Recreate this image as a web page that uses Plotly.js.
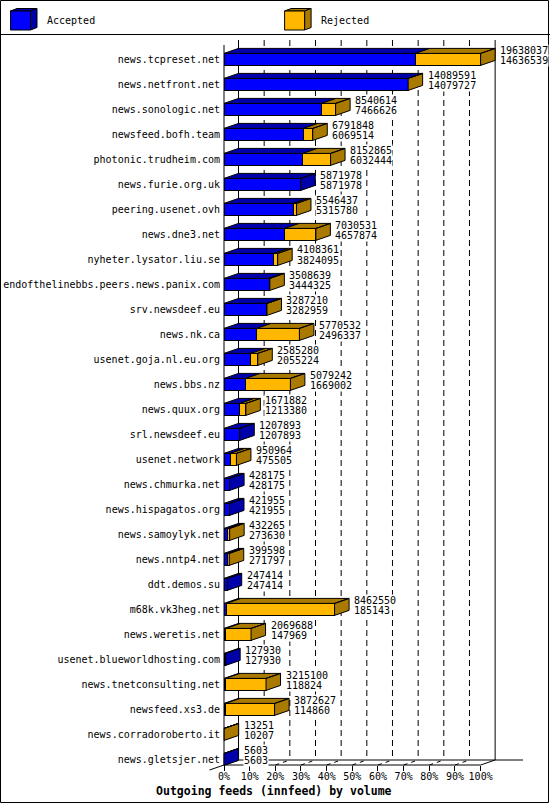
<!DOCTYPE html>
<html>
<head>
<meta charset="utf-8">
<script src="https://cdn.plot.ly/plotly-3.0.1.min.js"></script>
<style>html,body{margin:0;padding:0;background:#fff;}</style>
</head>
<body>
<div id="chart" style="width:550px;height:805px;"></div>
<script>
// ---- data ----
const hosts = [
  "news.tcpreset.net", "news.netfront.net", "news.sonologic.net", "newsfeed.bofh.team",
  "photonic.trudheim.com", "news.furie.org.uk", "peering.usenet.ovh", "news.dne3.net",
  "nyheter.lysator.liu.se", "endofthelinebbs.peers.news.panix.com", "srv.newsdeef.eu",
  "news.nk.ca", "usenet.goja.nl.eu.org", "news.bbs.nz", "news.quux.org", "srl.newsdeef.eu",
  "usenet.network", "news.chmurka.net", "news.hispagatos.org", "news.samoylyk.net",
  "news.nntp4.net", "ddt.demos.su", "m68k.vk3heg.net", "news.weretis.net",
  "usenet.blueworldhosting.com", "news.tnetconsulting.net", "newsfeed.xs3.de",
  "news.corradoroberto.it", "news.gletsjer.net"
];
const offered = [
  19638037, 14089591, 8540614, 6791848, 8152865, 5871978, 5546437, 7030531,
  4108361, 3508639, 3287210, 5770532, 2585280, 5079242, 1671882, 1207893,
  950964, 428175, 421955, 432265, 399598, 247414, 8462550, 2069688,
  127930, 3215100, 3872627, 13251, 5603
];
const accepted = [
  14636539, 14079727, 7466626, 6069514, 6032444, 5871978, 5315780, 4657874,
  3824095, 3444325, 3282959, 2496337, 2055224, 1669002, 1213380, 1207893,
  475505, 428175, 421955, 273630, 271797, 247414, 185143, 147969,
  127930, 118824, 114860, 10207, 5603
];
const tickPercents = [0, 10, 20, 30, 40, 50, 60, 70, 80, 90, 100];
const seriesNames = ["Accepted", "Rejected"];
const chartTitle = "Outgoing feeds (innfeed) by volume";

// ---- styling / geometry ----
const COL_ACC = "#0000ff", COL_ACC_D = "#0000aa";
const COL_REJ = "#ffb700", COL_REJ_D = "#aa7a00";
const FONT = {family: "DejaVu Sans Mono, monospace", size: 10, color: "#000"};

const L = 200, R = 530, T = 38, B = 780;       // plot area in px
const X_ORIGIN = 224, PX_PER_PCT = 2.5664;     // 0% at 224px, 100% at ~480.6px
const ROW_PX = 25, ROW0_PX = 59.4;             // row spacing / centre of first row
const X0 = (L - X_ORIGIN) / PX_PER_PCT, X1 = (R - X_ORIGIN) / PX_PER_PCT;
const YT = (T - ROW0_PX) / ROW_PX, YB = (B - ROW0_PX) / ROW_PX;
const DX = 14.5 / PX_PER_PCT, DY = 5 / ROW_PX, BH = 0.48;
const Y_BACK_TOP = (40 - ROW0_PX) / ROW_PX;
const Y_FRONT = (765 - ROW0_PX) / ROW_PX, Y_BACK = Y_FRONT - DY;
const BACK_END = (523 - X_ORIGIN) / PX_PER_PCT;

const xp = px => (px - L) / (R - L);
const yp = py => (B - py) / (B - T);

// ---- derived values ----
const maxTotal = Math.max(...offered);
const idx = hosts.map((_, i) => i);
const accPct = accepted.map(v => v / maxTotal * 100);
const rejPct = offered.map((v, i) => (v - accepted[i]) / maxTotal * 100);
const totPct = offered.map(v => v / maxTotal * 100);

// front faces as stacked bars
const barAcc = {
  type: "bar", orientation: "h", name: seriesNames[0], y: idx, x: accPct, width: BH,
  marker: {color: COL_ACC, line: {color: "#000", width: 1}}, hoverinfo: "skip", showlegend: false
};
const barRej = {
  type: "bar", orientation: "h", name: seriesNames[1], y: idx, x: rejPct, width: BH,
  marker: {color: COL_REJ, line: {color: "#000", width: 1}}, hoverinfo: "skip", showlegend: false
};

// 3D top and side faces
const dB = {x: [], y: []}, dO = {x: [], y: []};
function poly(target, xs, ys) {
  target.x.push(...xs, xs[0], null);
  target.y.push(...ys, ys[0], null);
}
idx.forEach(i => {
  const yt = i - BH / 2, ybt = i + BH / 2;
  const a = accPct[i], t = totPct[i];
  if (a > 0) poly(dB, [0, a, a + DX, DX], [yt, yt, yt - DY, yt - DY]);
  const hasRej = rejPct[i] > 0;
  if (hasRej) poly(dO, [a, t, t + DX, a + DX], [yt, yt, yt - DY, yt - DY]);
  poly(hasRej ? dO : dB, [t, t + DX, t + DX, t], [yt, yt - DY, ybt - DY, ybt]);
});
const faceTrace = (d, c) => ({
  type: "scatter", mode: "lines", x: d.x, y: d.y, fill: "toself", fillcolor: c,
  line: {color: "#000", width: 1}, hoverinfo: "skip", showlegend: false, connectgaps: false
});

// value labels: white boxes first, then the texts on top
const annotations = [];
const labelDefs = [];
idx.forEach(i => {
  labelDefs.push({i: i, text: String(offered[i]), yshift: 9.4});
  labelDefs.push({i: i, text: String(accepted[i]), yshift: -0.6});
});
[true, false].forEach(isBox => {
  labelDefs.forEach(d => {
    annotations.push({
      x: totPct[d.i] + DX, y: d.i, xref: "x", yref: "y", xanchor: "left", yanchor: "middle",
      xshift: 4, yshift: d.yshift, showarrow: false, text: d.text, borderpad: 0,
      bgcolor: isBox ? "#fff" : "rgba(0,0,0,0)",
      font: isBox ? Object.assign({}, FONT, {color: "rgba(0,0,0,0)"}) : FONT
    });
  });
});
// legend texts
annotations.push({x: xp(44.5), y: yp(20.5), xref: "paper", yref: "paper", xanchor: "left", yanchor: "middle",
  text: seriesNames[0], showarrow: false, font: FONT});
annotations.push({x: xp(318.5), y: yp(20.5), xref: "paper", yref: "paper", xanchor: "left", yanchor: "middle",
  text: seriesNames[1], showarrow: false, font: FONT});

// ---- frame shapes ----
const shapes = [];
const ln = (o) => Object.assign({type: "line", xref: "x", yref: "y", line: {color: "#000", width: 1}}, o);
// back plane
shapes.push(ln({x0: DX, x1: DX, y0: Y_BACK_TOP, y1: Y_BACK, layer: "below"}));
shapes.push(ln({x0: 100 + DX, x1: 100 + DX, y0: Y_BACK_TOP, y1: Y_BACK, layer: "below"}));
tickPercents.filter(p => p > 0 && p < 100).forEach(p => {
  shapes.push(ln({x0: p + DX, x1: p + DX, y0: Y_BACK_TOP, y1: Y_BACK, layer: "below",
                  line: {color: "#000", width: 1, dash: "6px,4px"}}));
});
shapes.push(ln({x0: DX, x1: BACK_END, y0: Y_BACK, y1: Y_BACK, layer: "below"}));
// floor
tickPercents.forEach(p => {
  const solid = (p === 0 || p === 100);
  shapes.push(ln({x0: p, x1: p + DX, y0: Y_FRONT, y1: Y_BACK, layer: "below",
                  line: {color: "#000", width: 1, dash: solid ? "solid" : "4px,4px"}}));
});
// front axes
shapes.push(ln({x0: 0, x1: 0, y0: Y_BACK_TOP + DY, y1: Y_FRONT, layer: "below"}));
shapes.push(ln({x0: 0, x1: 100, y0: Y_FRONT, y1: Y_FRONT, layer: "below"}));
shapes.push(ln({x0: 0, x1: -DX, y0: Y_FRONT, y1: Y_FRONT + DY, layer: "below"}));

// outer border and legend separator (paper)
shapes.push({type: "rect", xref: "paper", yref: "paper", x0: xp(0.5), x1: xp(548.5), y0: yp(0.5), y1: yp(802.5),
  line: {color: "#000", width: 1}, fillcolor: "rgba(0,0,0,0)"});
shapes.push({type: "line", xref: "paper", yref: "paper", x0: xp(0), x1: xp(550), y0: yp(34.5), y1: yp(34.5),
  line: {color: "#000", width: 1}});
// legend cubes
function cube(x, front, dark) {
  const fx0 = x, fx1 = x + 20, fy0 = 11, fy1 = 30, ddx = 6.5, ddy = 2.5;
  const P = pts => "M" + pts.map(p => xp(p[0]) + "," + yp(p[1])).join("L") + "Z";
  shapes.push({type: "path", xref: "paper", yref: "paper", fillcolor: dark, line: {color: "#000", width: 1},
    path: P([[fx0, fy0], [fx1, fy0], [fx1 + ddx, fy0 - ddy], [fx0 + ddx, fy0 - ddy]])});
  shapes.push({type: "path", xref: "paper", yref: "paper", fillcolor: dark, line: {color: "#000", width: 1},
    path: P([[fx1, fy0], [fx1 + ddx, fy0 - ddy], [fx1 + ddx, fy1 - ddy], [fx1, fy1]])});
  shapes.push({type: "rect", xref: "paper", yref: "paper", fillcolor: front, line: {color: "#000", width: 1},
    x0: xp(fx0), x1: xp(fx1), y0: yp(fy1), y1: yp(fy0)});
}
cube(10.5, COL_ACC, COL_ACC_D);
cube(284.6, COL_REJ, COL_REJ_D);

const layout = {
  width: 550, height: 805,
  margin: {l: L, r: 550 - R, t: T, b: 805 - B, pad: 0},
  paper_bgcolor: "#fff", plot_bgcolor: "rgba(0,0,0,0)",
  showlegend: false, barmode: "stack",
  font: FONT,
  title: {text: chartTitle, font: {family: "DejaVu Sans Mono, monospace", size: 11.5, color: "#000", weight: "bold"},
          xref: "container", yref: "container", x: 273.8 / 550, y: 1 - 791 / 805, xanchor: "center", yanchor: "middle",
          automargin: false},
  xaxis: {range: [X0, X1], anchor: "free", position: yp(765), tickvals: tickPercents,
          ticktext: tickPercents.map(p => p + "%"), ticks: "outside", ticklen: 5, tickcolor: "#000", tickwidth: 1,
          ticklabelstandoff: -3,
          showgrid: false, zeroline: false, showline: false, tickfont: FONT, automargin: false, fixedrange: true},
  yaxis: {range: [YB, YT], anchor: "free", position: xp(X_ORIGIN), tickvals: idx, ticktext: hosts, ticks: "",
          ticklabelstandoff: 4,
          showgrid: false, zeroline: false, showline: false, tickfont: FONT, automargin: false, fixedrange: true},
  shapes: shapes,
  annotations: annotations
};

Plotly.newPlot("chart", [barAcc, barRej, faceTrace(dB, COL_ACC_D), faceTrace(dO, COL_REJ_D)], layout,
  {displayModeBar: false, staticPlot: true});
</script>
</body>
</html>
